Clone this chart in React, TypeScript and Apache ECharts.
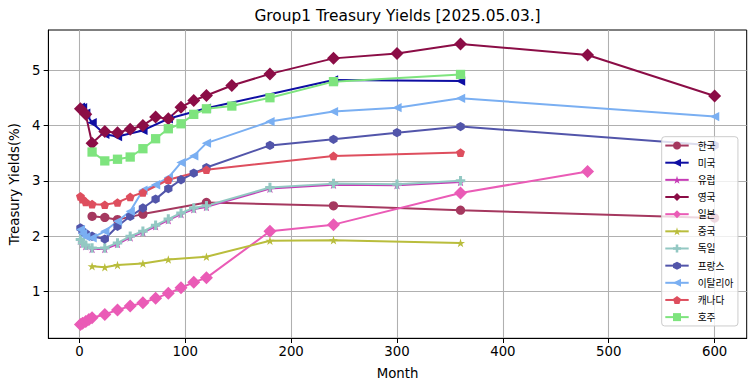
import React, { useEffect, useRef } from 'react';
import * as echarts from 'echarts';

// ---- data (months to maturity, yields in %) ----
const seriesNames = ['한국', '미국', '유럽', '영국', '일본', '중국', '독일', '프랑스', '이탈리아', '캐나다', '호주'];

const krMonths = [12, 24, 36, 60, 120, 240, 360, 600];
const krYields = [2.36, 2.34, 2.30, 2.40, 2.61, 2.55, 2.47, 2.33];

const usMonths = [1, 3, 6, 12, 24, 36, 60, 84, 120, 240, 360];
const usYields = [4.33, 4.32, 4.22, 4.05, 3.84, 3.80, 3.91, 4.12, 4.31, 4.82, 4.80];

const euMonths = [1, 3, 6, 12, 24, 36, 48, 60, 72, 84, 96, 108, 120, 180, 240, 300, 360];
const euYields = [1.92, 1.86, 1.82, 1.77, 1.77, 1.86, 1.98, 2.07, 2.18, 2.29, 2.40, 2.49, 2.53, 2.86, 2.93, 2.92, 2.98];

const ukMonths = [1, 6, 12, 24, 36, 48, 60, 72, 84, 96, 108, 120, 144, 180, 240, 300, 360, 480, 600];
const ukYields = [4.30, 4.20, 3.68, 3.89, 3.87, 3.93, 4.00, 4.15, 4.12, 4.33, 4.45, 4.54, 4.72, 4.93, 5.21, 5.30, 5.47, 5.27, 4.53];

const jpMonths = [1, 3, 6, 9, 12, 24, 36, 48, 60, 72, 84, 96, 108, 120, 180, 240, 360, 480];
const jpYields = [0.41, 0.43, 0.46, 0.50, 0.53, 0.59, 0.67, 0.74, 0.80, 0.88, 0.97, 1.07, 1.17, 1.25, 2.09, 2.21, 2.78, 3.17];

const cnMonths = [12, 24, 36, 60, 84, 120, 180, 240, 360];
const cnYields = [1.46, 1.44, 1.48, 1.51, 1.58, 1.63, 1.92, 1.93, 1.88];

const deMonths = [1, 3, 6, 12, 24, 36, 48, 60, 72, 84, 96, 108, 120, 180, 240, 300, 360];
const deYields = [1.94, 1.88, 1.84, 1.79, 1.79, 1.88, 2.00, 2.09, 2.20, 2.31, 2.42, 2.51, 2.55, 2.88, 2.95, 2.94, 3.00];

const frMonths = [1, 3, 6, 12, 24, 36, 48, 60, 72, 84, 96, 108, 120, 180, 240, 300, 360, 600];
const frYields = [2.15, 2.09, 2.05, 2.00, 1.95, 2.18, 2.36, 2.51, 2.67, 2.86, 3.02, 3.14, 3.24, 3.64, 3.75, 3.87, 3.98, 3.64];

const itMonths = [1, 3, 6, 12, 24, 36, 48, 60, 72, 84, 96, 108, 120, 180, 240, 300, 360, 600];
const itYields = [2.12, 2.05, 1.99, 1.97, 2.09, 2.27, 2.45, 2.83, 2.93, 3.06, 3.33, 3.45, 3.68, 4.07, 4.25, 4.32, 4.49, 4.16];

const caMonths = [1, 3, 6, 12, 24, 36, 48, 60, 84, 120, 240, 360];
const caYields = [2.72, 2.67, 2.62, 2.58, 2.57, 2.61, 2.71, 2.79, 3.02, 3.20, 3.45, 3.51];

const auMonths = [12, 24, 36, 48, 60, 72, 84, 96, 108, 120, 144, 180, 240, 360];
const auYields = [3.52, 3.36, 3.39, 3.43, 3.58, 3.76, 3.94, 4.03, 4.20, 4.30, 4.35, 4.50, 4.79, 4.92];

const xTicks = [0, 100, 200, 300, 400, 500, 600];
const yTicks = [1, 2, 3, 4, 5];

const titleText = 'Group1 Treasury Yields [2025.05.03.]';

// ---- styling ----
const colors = ['#a5385f', '#0e0ea3', '#c63bb6', '#8b0d46', '#ea5bb6', '#b9bd3c', '#93c8c3', '#5255aa', '#7aaff2', '#de4e5e', '#7ee47e'];

const STAR = 'path://M50 0L61.2 34.5L97.6 34.5L68.2 55.9L79.4 90.5L50 69.1L20.6 90.5L31.8 55.9L2.4 34.5L38.8 34.5Z';
const PLUS = 'path://M34 0H66V34H100V66H66V100H34V66H0V34H34Z';
const HEX = 'path://M50 0L100 25L100 75L50 100L0 75L0 25Z';
const PENT = 'path://M50 0L100 36.3L80.9 95L19.1 95L0 36.3Z';

const symbols: any[] = [
  { symbol: 'circle', symbolSize: 9.3 },
  { symbol: 'triangle', symbolSize: 9.3, symbolRotate: 90 },
  { symbol: STAR, symbolSize: [9, 8.6] },
  { symbol: 'diamond', symbolSize: 13 },
  { symbol: 'diamond', symbolSize: 13 },
  { symbol: STAR, symbolSize: [9, 8.6] },
  { symbol: PLUS, symbolSize: 9.5 },
  { symbol: HEX, symbolSize: [8.3, 9.3] },
  { symbol: 'triangle', symbolSize: 9.3, symbolRotate: 90 },
  { symbol: PENT, symbolSize: [8.9, 8.6] },
  { symbol: 'rect', symbolSize: 9.3 },
];

const monthsList = [krMonths, usMonths, euMonths, ukMonths, jpMonths, cnMonths, deMonths, frMonths, itMonths, caMonths, auMonths];
const yieldsList = [krYields, usYields, euYields, ukYields, jpYields, cnYields, deYields, frYields, itYields, caYields, auYields];

const FONT = 'DejaVu Sans';

export default function App() {
  const ref = useRef<HTMLDivElement>(null);
  useEffect(() => {
    if (!ref.current) return;
    const chart = echarts.init(ref.current, null, { renderer: 'svg' });
    const series = seriesNames.map((name, i) => ({
      name,
      type: 'line',
      data: monthsList[i].map((m, j) => [m, yieldsList[i][j]]),
      ...symbols[i],
      showAllSymbol: true,
      clip: false,
      lineStyle: { width: 2, color: colors[i] },
      itemStyle: { color: colors[i], borderWidth: 0 },
      emphasis: { disabled: true },
    }));
    chart.setOption({
      animation: false,
      backgroundColor: '#ffffff',
      title: {
        text: titleText,
        left: 397.5,
        top: 8,
        padding: 0,
        textAlign: 'center',
        textStyle: { fontFamily: FONT, fontSize: 15.4, fontWeight: 'normal', color: '#000' },
      },
      grid: {
        left: 48.3,
        right: 8.3,
        top: 30,
        bottom: 52.7,
        show: true,
        borderColor: '#000',
        borderWidth: 1,
        backgroundColor: 'transparent',
      },
      xAxis: {
        type: 'value',
        min: -29.3,
        max: 630.3,
        name: 'Month',
        nameLocation: 'middle',
        nameGap: 29,
        nameTextStyle: { fontFamily: FONT, fontSize: 13.3, color: '#000' },
        axisLine: { show: true, onZero: false, lineStyle: { color: '#000', width: 1 } },
        axisTick: { show: true, length: 4.7, customValues: xTicks, lineStyle: { color: '#000', width: 1 } },
        axisLabel: { customValues: xTicks, fontFamily: FONT, fontSize: 13.3, color: '#000', margin: 7 },
        splitLine: { show: true, lineStyle: { color: '#b0b0b0', width: 1.07 } },
      },
      yAxis: {
        type: 'value',
        min: 0.159,
        max: 5.722,
        name: 'Treasury Yields(%)',
        nameLocation: 'middle',
        nameGap: 27,
        nameTextStyle: { fontFamily: FONT, fontSize: 13.3, color: '#000' },
        axisLine: { show: true, onZero: false, lineStyle: { color: '#000', width: 1 } },
        axisTick: { show: true, length: 4.7, customValues: yTicks, lineStyle: { color: '#000', width: 1 } },
        axisLabel: { customValues: yTicks, fontFamily: FONT, fontSize: 13.3, color: '#000', margin: 8 },
        splitLine: { show: true, lineStyle: { color: '#b0b0b0', width: 1.07 } },
      },
      legend: {
        orient: 'vertical',
        left: 661.7,
        top: 136.7,
        padding: [4, 4.6, 4, 2.6],
        itemWidth: 23.4,
        itemHeight: 10,
        itemGap: 7.47,
        backgroundColor: 'rgba(255,255,255,0.8)',
        borderColor: '#cccccc',
        borderWidth: 1,
        borderRadius: 3,
        selectedMode: false,
        textStyle: { fontFamily: 'Noto Sans CJK KR', fontSize: 9.7, color: '#000', padding: [0, 0, 0, 4] },
        data: seriesNames,
      },
      series,
    });
    return () => chart.dispose();
  }, []);
  return <div ref={ref} style={{ position: 'fixed', left: 0, top: 0, width: 755, height: 391 }} />;
}
